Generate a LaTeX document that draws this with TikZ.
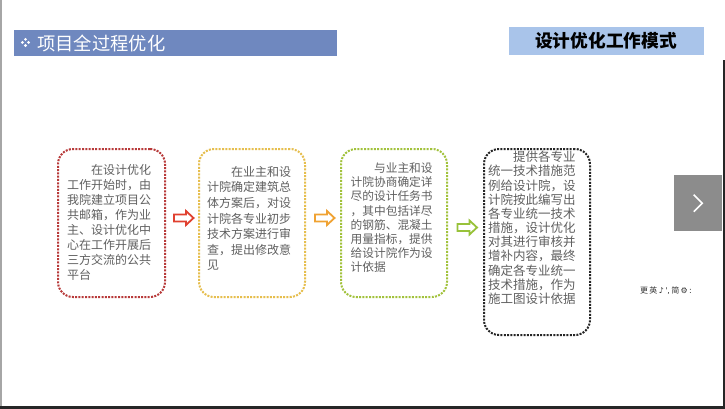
\documentclass[tikz,border=0pt]{standalone}
\usepackage{fontspec}
\usetikzlibrary{calc}
\newfontfamily\cjk{Noto Sans CJK SC}
\newfontfamily\djv{DejaVu Sans}
\definecolor{titleblue}{HTML}{6F88BF}
\definecolor{lightblue}{HTML}{A9C4EA}
\definecolor{bred}{HTML}{B83A3A}
\definecolor{bgold}{HTML}{E6BE4E}
\definecolor{bgreen}{HTML}{A2C23C}
\definecolor{ared}{HTML}{E0402F}
\definecolor{aorange}{HTML}{F0A232}
\definecolor{agreen}{HTML}{98C23A}
\definecolor{txtgray}{HTML}{606060}
\definecolor{tabgray}{HTML}{8C8C8C}
\begin{document}
\begin{tikzpicture}[x=1pt,y=-1pt,
  stagebox/.style={draw, line width=2pt, dash pattern=on 2pt off 1.3pt, rounded corners=15pt, fill=white},
  stagetext/.style={anchor=north west, inner sep=0pt, align=left, text=txtgray, font=\cjk\fontsize{12}{15}\selectfont},
  hollowarrow/.style={line width=1.8pt, fill=white, line join=miter}
]
\useasboundingbox (0,0) rectangle (725,409);
\fill[white] (0,0) rectangle (725,409);
% frame edges
\fill[black!35] (0,0) rectangle (2,409);
\fill[black!85] (722.5,60) rectangle (725,409);
\fill[black!85] (0,406) rectangle (725,409);

% left title bar
\node[fill=titleblue, minimum width=323pt, minimum height=26pt, inner sep=0pt, anchor=north west] (tbar) at (14,30) {};
\foreach \dx/\dy in {0/-3.1, 0/3.1, -3.1/0, 3.1/0}
  \fill[white] (25.5+\dx,42.5+\dy) circle (1.6pt);
\node[anchor=west, inner sep=0pt, text=white, font=\cjk\fontsize{18.3}{20}\selectfont] (ttext) at (37,43) {项目全过程优化};

% right title bar
\node[fill=lightblue, minimum width=195pt, minimum height=28pt, inner sep=0pt, anchor=north west] (rbar) at (509,27) {};
\node[inner sep=0pt, text=black, font=\cjk\bfseries\fontsize{17.7}{20}\selectfont] (rtext) at (606,41) {设计优化工作模式};

% boxes
\node[stagebox, draw=bred, minimum width=107pt, minimum height=148pt, anchor=north west, inner sep=0pt] (b1) at (57,148) {};
\node[stagebox, draw=bgold, minimum width=106pt, minimum height=148pt, anchor=north west, inner sep=0pt] (b2) at (198,148) {};
\node[stagebox, draw=bgreen, minimum width=106pt, minimum height=148pt, anchor=north west, inner sep=0pt] (b3) at (340,148) {};
\node[stagebox, draw=black!85, minimum width=106pt, minimum height=186pt, anchor=north west, inner sep=0pt] (b4) at (483,148) {};

\node[stagetext] (t1) at (67,164) {\hspace*{2em}在设计优化\\工作开始时，由\\我院建立项目公\\共邮箱，作为业\\主、设计优化中\\心在工作开展后\\三方交流的公共\\平台};
\node[stagetext, font=\cjk\fontsize{12}{15.6}\selectfont] (t2) at (207,166) {\hspace*{2em}在业主和设\\计院确定建筑总\\体方案后，对设\\计院各专业初步\\技术方案进行审\\查，提出修改意\\见};
\node[stagetext, font=\cjk\fontsize{11.7}{14.2}\selectfont] (t3) at (350.5,162.5) {\hspace*{2em}与业主和设\\计院协商确定详\\尽的设计任务书\\，其中包括详尽\\的钢筋、混凝土\\用量指标，提供\\给设计院作为设\\计依据};
\node[stagetext, font=\cjk\fontsize{12.5}{14.15}\selectfont] (t4) at (488,151) {\hspace*{2em}提供各专业\\统一技术措施范\\例给设计院，设\\计院按此编写出\\各专业统一技术\\措施，设计优化\\对其进行审核并\\增补内容，最终\\确定各专业统一\\技术措施，作为\\施工图设计依据};

% hollow arrows between boxes
\coordinate (a1) at ($(b1.east)!0.5!(b2.west)+(1.5,-5)$);
\coordinate (a2) at ($(b2.east)!0.5!(b3.west)+(1.5,-5)$);
\coordinate (a3) at ($(b3.east)!0.5!(b4.west)+(1.5,-5)$);
\foreach \c/\col in {a1/ared, a2/aorange, a3/agreen}
  \draw[hollowarrow, draw=\col] ($(\c)+(-9.5,-3.5)$) -- ++(12,0) -- ++(0,-3.5) -- ++(7.5,7) -- ++(-7.5,7) -- ++(0,-3.5) -- ++(-12,0) -- cycle;

% right navigation tab
\node[fill=tabgray, minimum width=48pt, minimum height=56pt, inner sep=0pt, anchor=north west] (tab) at (674,175) {};
\draw[white, line width=1.6pt] ($(tab.center)+(-4.5,-8.5)$) -- ($(tab.center)+(4,0)$) -- ($(tab.center)+(-4.5,8.5)$);

% small status text
\node[inner sep=0pt, font=\fontsize{8}{9}\selectfont, text=black!80] (ime) at (666,291) {\cjk 更\,英\,\djv ♪\,',\,\cjk 简\,\djv ⚙\,:};
\end{tikzpicture}
\end{document}
